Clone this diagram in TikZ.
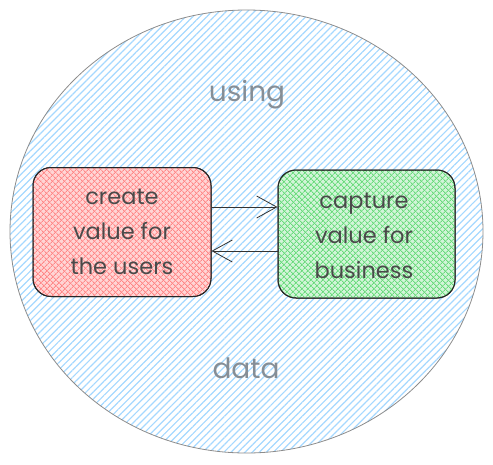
\documentclass[tikz,border=0pt]{standalone}
\usepackage{fontspec}
\setmainfont{Poppins}
\usetikzlibrary{patterns.meta,arrows.meta}
\definecolor{hatchblue}{HTML}{A5D8FF}
\definecolor{hatchred}{HTML}{FF8787}
\definecolor{hatchgreen}{HTML}{69DB7C}
\definecolor{inkgray}{HTML}{4A4A4A}
\definecolor{softgray}{HTML}{868E96}
\tikzset{
  boxshape/.style={draw=black!85, line width=1pt, rounded corners=18pt, minimum width=178pt, minimum height=129pt, inner sep=0pt},
  boxtext/.style={text=inkgray, font=\fontsize{22.5}{35}\selectfont, align=center},
  biglabel/.style={text=softgray, font=\fontsize{28}{32}\selectfont},
  link/.style={draw=black!80, line width=0.8pt, -{Straight Barb[length=20pt,width=22pt,line width=0.8pt]}}
}
\begin{document}
\begin{tikzpicture}[x=1pt,y=-1pt]
\useasboundingbox (0,0) rectangle (493,464);
% big ellipse
\path[pattern={Lines[angle=45,distance=5pt,line width=1.2pt]}, pattern color=hatchblue] (246.5,231.5) ellipse [x radius=236.5, y radius=221.5];
\draw[draw=black!45, line width=0.8pt] (246.5,231.5) ellipse [x radius=236.5, y radius=221.5];
% boxes
\node[boxshape, fill=hatchred!35] (red) at (122,232) {};
\path[pattern={Lines[angle=45,distance=4pt,line width=1pt]}, pattern color=hatchred, rounded corners=18pt] (33,167.5) rectangle (211,296.5);
\path[pattern={Lines[angle=-45,distance=4pt,line width=1pt]}, pattern color=hatchred, rounded corners=18pt] (33,167.5) rectangle (211,296.5);
\node[boxshape, fill=none] at (122,232) {};
\node[boxshape, fill=hatchgreen!30, minimum width=177pt, minimum height=128pt] (green) at (366.5,234) {};
\path[pattern={Lines[angle=45,distance=4pt,line width=1pt]}, pattern color=hatchgreen, rounded corners=18pt] (278,170) rectangle (455,298);
\path[pattern={Lines[angle=-45,distance=4pt,line width=1pt]}, pattern color=hatchgreen, rounded corners=18pt] (278,170) rectangle (455,298);
\node[boxshape, fill=none, minimum width=177pt, minimum height=128pt] at (366.5,234) {};
% texts
\node[boxtext] (redtext) at (122,232) {create\\value for\\the users};
\node[boxtext] (greentext) at (364,236) {capture\\value for\\business};
\node[biglabel] (using) at (247,95) {using};
\node[biglabel] (data) at (246,368) {data};
% arrows
\draw[link] (red.east |- 0,207) -- (green.west |- 0,207);
\draw[link] (green.west |- 0,251) -- (red.east |- 0,251);
\end{tikzpicture}
\end{document}
